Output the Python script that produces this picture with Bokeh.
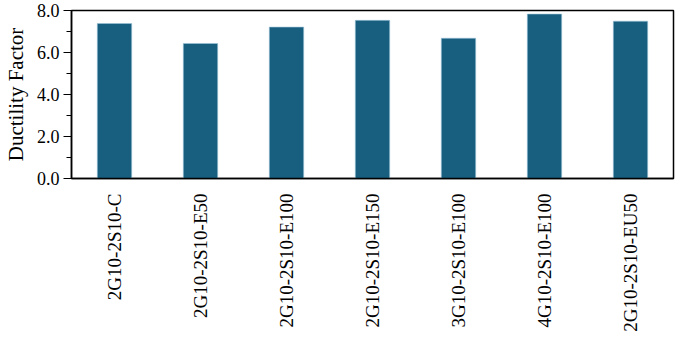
import math
from bokeh.plotting import figure
from bokeh.models import SingleIntervalTicker, PrintfTickFormatter, Range1d
from bokeh.embed import file_html
from bokeh.resources import INLINE

specimens = ["2G10-2S10-C", "2G10-2S10-E50", "2G10-2S10-E100", "2G10-2S10-E150",
             "3G10-2S10-E100", "4G10-2S10-E100", "2G10-2S10-EU50"]
ductility = [7.38, 6.43, 7.21, 7.53, 6.68, 7.83, 7.49]

FONT = "Liberation Serif"

p = figure(x_range=specimens, y_range=Range1d(0, 8), width=677, height=334,
           output_backend="svg", toolbar_location=None,
           min_border_top=10, min_border_right=4, min_border_left=8, min_border_bottom=2)

p.vbar(x=specimens, top=ductility, width=0.4, fill_color="#175e7f",
       line_color="#9cc4d8", line_width=0.6)

p.xgrid.grid_line_color = None
p.ygrid.grid_line_color = None
p.outline_line_color = "black"
p.outline_line_width = 1.5
p.outline_line_alpha = 1.0

ya = p.yaxis[0]
ya.ticker = SingleIntervalTicker(interval=2, num_minor_ticks=2)
ya.formatter = PrintfTickFormatter(format="%.1f")
ya.axis_label = "Ductility Factor"
ya.axis_label_text_font = FONT
ya.axis_label_text_font_size = "21px"
ya.axis_label_text_font_style = "normal"
ya.axis_label_text_color = "black"
ya.axis_label_standoff = 6
ya.major_label_text_font = FONT
ya.major_label_text_font_size = "18px"
ya.major_label_text_color = "black"
ya.major_tick_out = 8
ya.major_tick_in = 0
ya.minor_tick_out = 5
ya.minor_tick_in = 0
ya.axis_line_width = 1.5
ya.major_tick_line_width = 1.2
ya.minor_tick_line_width = 1.2
ya.major_label_standoff = 4

xa = p.xaxis[0]
xa.major_label_orientation = math.pi / 2
xa.major_label_text_font = FONT
xa.major_label_text_font_size = "19px"
xa.major_label_text_color = "black"
xa.major_tick_line_color = None
xa.minor_tick_line_color = None
xa.axis_line_width = 1.5
xa.major_label_standoff = 9

open("out.html", "w").write(file_html(p, INLINE))
